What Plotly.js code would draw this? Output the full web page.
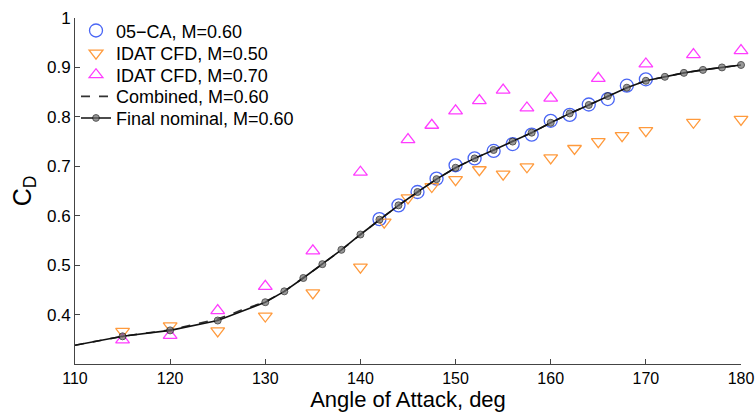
<!DOCTYPE html>
<html>
<head>
<meta charset="utf-8">
<script src="https://cdn.plot.ly/plotly-3.0.1.min.js"></script>
<style>html,body{margin:0;padding:0;background:#fff}#chart{width:756px;height:412px}</style>
</head>
<body>
<div id="chart"></div>
<script>
// 05-CA, M=0.60
const caAlpha = [142,144,146,148,150,152,154,156,158,160,162,164,166,168,170];
const caCD    = [0.593,0.621,0.648,0.675,0.702,0.716,0.731,0.745,0.764,0.792,0.804,0.825,0.836,0.863,0.876];

// IDAT CFD, M=0.50
const m50Alpha = [115,120,125,130,135,140,142.5,145,147.5,150,152.5,155,157.5,160,162.5,165,167.5,170,175,180];
const m50CD    = [0.366,0.377,0.367,0.397,0.444,0.496,0.587,0.636,0.659,0.673,0.693,0.684,0.699,0.717,0.736,0.750,0.762,0.772,0.789,0.795];

// IDAT CFD, M=0.70
const m70Alpha = [115,120,125,130,135,140,145,147.5,150,152.5,155,157.5,160,165,170,175,180];
const m70CD    = [0.349,0.358,0.408,0.457,0.529,0.688,0.754,0.783,0.812,0.833,0.854,0.818,0.838,0.878,0.907,0.926,0.934];

// Combined, M=0.60
const combAlpha = [110,115,120,122.5,125,127.5,130,132,134,136,138,140,142,144,146,148,150,152,154,156,158,160,162,164,166,168,170,172,174,176,178,180];
const combCD    = [0.338,0.356,0.369,0.380,0.391,0.409,0.426,0.447,0.474,0.502,0.531,0.562,0.592,0.621,0.648,0.674,0.697,0.716,0.733,0.750,0.768,0.788,0.807,0.824,0.842,0.859,0.873,0.881,0.889,0.895,0.900,0.905];

// Final nominal, M=0.60 (first point: curve start, no marker)
const finAlpha = [110,115,120,125,130,132,134,136,138,140,142,144,146,148,150,152,154,156,158,160,162,164,166,168,170,172,174,176,178,180];
const finCD    = [0.338,0.356,0.368,0.388,0.425,0.447,0.474,0.502,0.531,0.562,0.592,0.621,0.648,0.674,0.697,0.716,0.733,0.750,0.768,0.788,0.807,0.824,0.842,0.859,0.873,0.881,0.889,0.895,0.900,0.905];
const finMarkerShown = finAlpha.map((a, i) => i === 0 ? 0 : 7);

// Axis ticks
const xTicks = [110,120,130,140,150,160,170,180];
const yTicks = [0.4,0.5,0.6,0.7,0.8,0.9,1];
const yTickText = ['0.4','0.5','0.6','0.7','0.8','0.9','1'];

const FONT = 'Liberation Sans, Arial, Helvetica, sans-serif';

const traces = [
  {x: caAlpha, y: caCD, name: '05\u2212CA, M=0.60', mode: 'markers', type: 'scatter', cliponaxis: false, legend: 'legend',
   marker: {symbol: 'circle-open', size: 13, color: '#4a66f5', line: {width: 1.3}}},
  {x: m50Alpha, y: m50CD, name: 'IDAT CFD, M=0.50', mode: 'markers', type: 'scatter', cliponaxis: false, legend: 'legend2',
   marker: {symbol: 'triangle-down-open', size: 12, color: '#ff9a3c', line: {width: 1.3}}},
  {x: m70Alpha, y: m70CD, name: 'IDAT CFD, M=0.70', mode: 'markers', type: 'scatter', cliponaxis: false, legend: 'legend3',
   marker: {symbol: 'triangle-up-open', size: 12, color: '#ff3cff', line: {width: 1.3}}},
  {x: combAlpha, y: combCD, name: 'Combined, M=0.60', mode: 'lines', type: 'scatter', cliponaxis: false, legend: 'legend4',
   line: {color: '#333333', width: 1.6, dash: 'dash'}},
  {x: finAlpha, y: finCD, name: 'Final nominal, M=0.60', mode: 'lines+markers', type: 'scatter', cliponaxis: false, legend: 'legend5',
   line: {color: '#111111', width: 1.6},
   marker: {symbol: 'circle', size: finMarkerShown, color: '#6e6e6e', line: {color: '#111111', width: 1}}}
];

// legend rows placed individually (plot area top 12 px, height 352 px)
const rowY = [25, 48, 70, 92, 114];
function legendAt(py) {
  return {x: 0.0015, y: 1 - (py - 12) / 352, xanchor: 'left', yanchor: 'middle', bgcolor: 'rgba(0,0,0,0)',
          font: {family: FONT, size: 18, color: '#000'}};
}

const layout = {
  width: 756, height: 412,
  margin: {l: 75, r: 15, t: 12, b: 48},
  paper_bgcolor: '#ffffff', plot_bgcolor: '#ffffff',
  font: {family: FONT, color: '#000000', size: 17},
  showlegend: true,
  legend: legendAt(rowY[0]),
  legend2: legendAt(rowY[1]),
  legend3: legendAt(rowY[2]),
  legend4: legendAt(rowY[3]),
  legend5: legendAt(rowY[4]),
  xaxis: {
    range: [110, 180], tickvals: xTicks, ticks: 'inside', ticklen: 5, tickcolor: '#444',
    showline: true, linecolor: '#444', linewidth: 1, showgrid: false, zeroline: false,
    tickfont: {family: FONT, size: 16, color: '#000'},
    title: {text: 'Angle of Attack, deg', font: {family: FONT, size: 22, color: '#000'}, standoff: 5},
    automargin: false
  },
  yaxis: {
    range: [0.3, 1.0], tickvals: yTicks, ticktext: yTickText, ticks: 'inside', ticklen: 5, tickcolor: '#444',
    showline: true, linecolor: '#444', linewidth: 1, showgrid: false, zeroline: false,
    tickfont: {family: FONT, size: 17, color: '#000'},
    title: {text: 'C<sub>D</sub>', font: {family: FONT, size: 25, color: '#000'}, standoff: 8},
    automargin: false
  }
};

Plotly.newPlot('chart', traces, layout, {displayModeBar: false, staticPlot: true});
</script>
</body>
</html>
